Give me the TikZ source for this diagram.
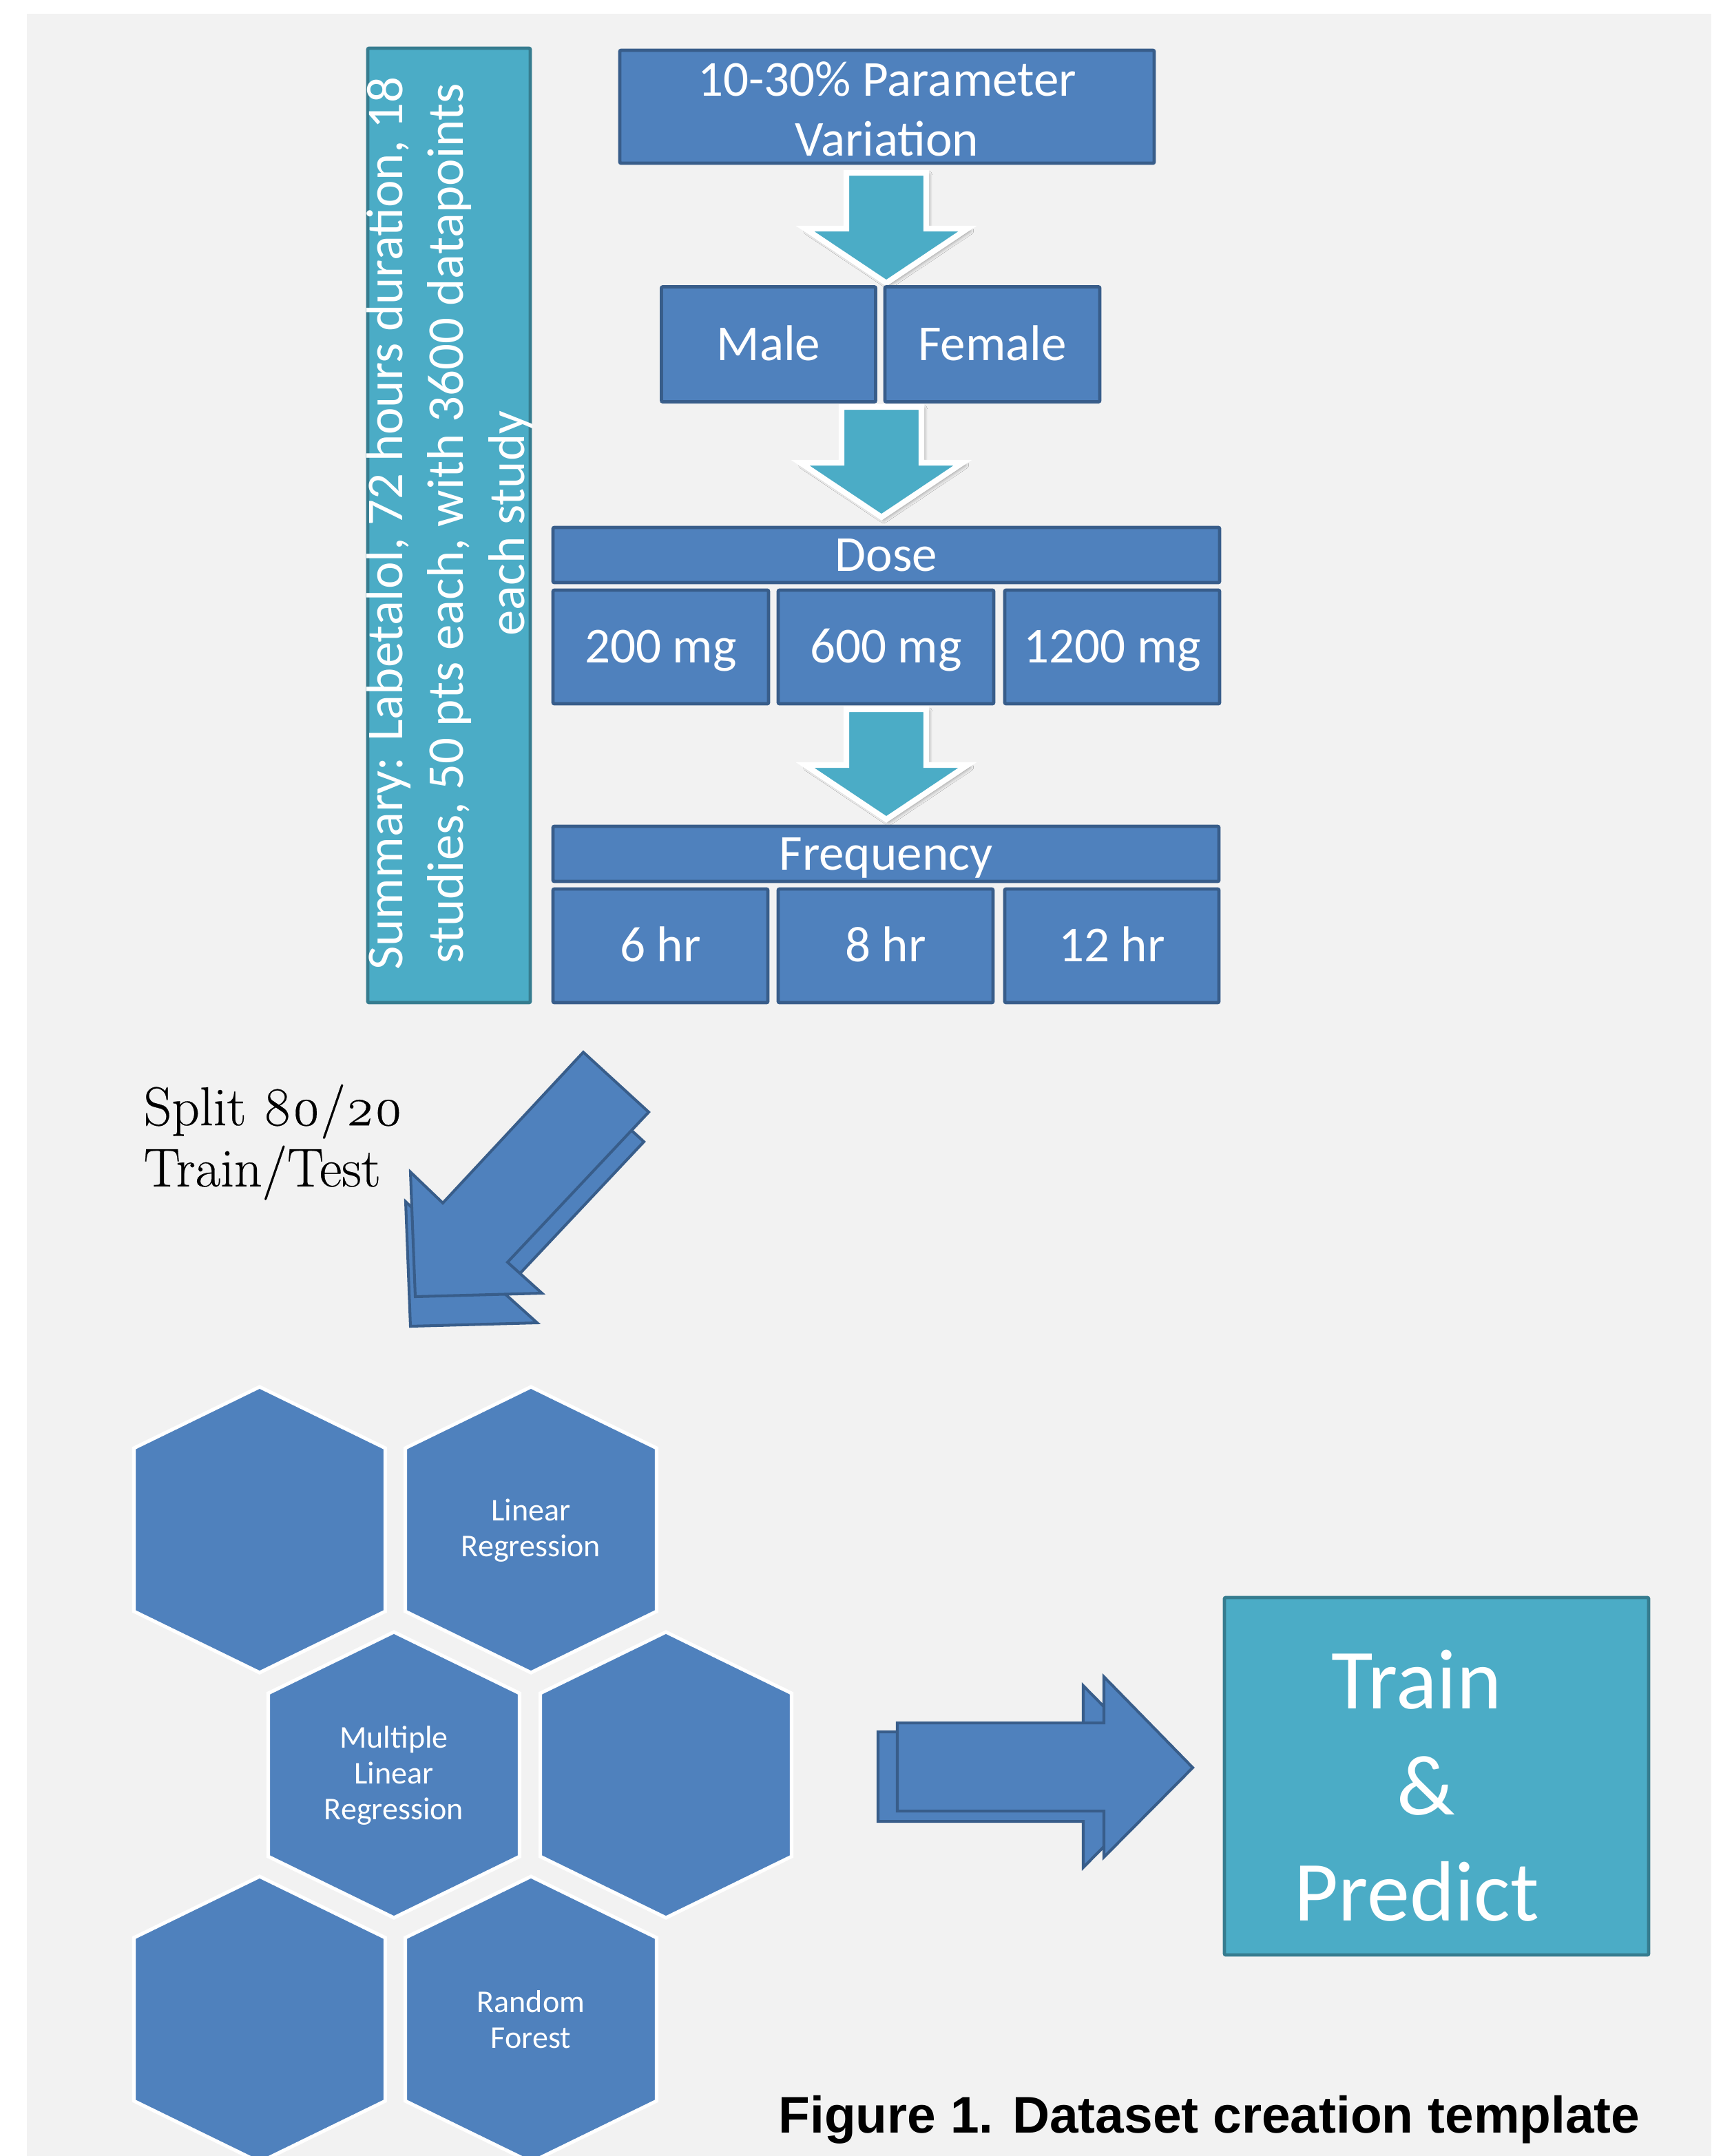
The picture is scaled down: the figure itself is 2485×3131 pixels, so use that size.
\documentclass[tikz,border=0pt]{standalone}
\usepackage{fontspec}
\setmainfont{Carlito}
\newfontfamily\capfont{Liberation Sans}
\newfontfamily\splitfont{Latin Modern Roman}[Numbers=OldStyle, FakeBold=0.35]
\usetikzlibrary{shadows.blur}
\definecolor{pagegray}{HTML}{F2F2F2}
\definecolor{boxblue}{HTML}{4F81BD}
\definecolor{boxedge}{HTML}{385D8A}
\definecolor{aqua}{HTML}{4BACC6}
\definecolor{aquaedge}{HTML}{367C8F}

\begin{document}
\begin{tikzpicture}[x=0.1mm,y=-0.1mm,
  box/.style={draw=boxedge, fill=boxblue, line width=1.4pt, rounded corners=0.6pt,
    text=white, inner sep=0pt, font=\fontsize{20.8pt}{24.8pt}\selectfont,
    text height=13.1pt, text depth=0pt},
  boxml/.style={draw=boxedge, fill=boxblue, line width=1.4pt, rounded corners=0.6pt,
    text=white, inner sep=0pt, align=center, font=\fontsize{20.8pt}{24.8pt}\selectfont},
  aquabox/.style={draw=aquaedge, fill=aqua, line width=1.4pt, rounded corners=0.6pt, inner sep=0pt},
  flowarrow/.style={fill=aqua, draw=white, line width=2.3pt, line join=miter,
    blur shadow={shadow xshift=0.9pt, shadow yshift=-0.9pt, shadow blur radius=1.6pt,
      shadow opacity=45, shadow blur steps=6}},
  bluearrow/.style={fill=boxblue, draw=boxedge, line width=1.15pt, line join=miter},
  hexstyle/.style={fill=boxblue, draw=white, line width=1.45pt, line join=miter},
  hextext/.style={text=white, align=center, inner sep=0pt,
    font=\fontsize{13.1pt}{14.8pt}\selectfont},
  downarrow/.pic={
    \path[flowarrow] (-58,0) -- (58,0) -- (58,81) -- (118,81) -- (0,160)
      -- (-118,81) -- (-58,81) -- cycle;},
  hexa/.pic={
    \path[hexstyle] (0,-207.5) -- (182.5,-118.5) -- (182.5,118.5) -- (0,207.5)
      -- (-182.5,118.5) -- (-182.5,-118.5) -- cycle;}
]
\useasboundingbox (0,0) rectangle (2485,3131);
\clip (0,0) rectangle (2485,3131);
\fill[white] (0,0) rectangle (2485,3131);
\fill[pagegray] (39,20) rectangle (2485,3131);

% summary column
\node[aquabox, minimum width=23.6mm, minimum height=138.6mm] (sumbox) at (652,763) {};
\node[rotate=90, align=center, text=white, inner sep=0pt,
  font=\fontsize{21.3pt}{25.2pt}\selectfont] (sumtext) at (653,760)
  {Summary: Labetalol, 72 hours duration, 18\\studies, 50 pts each, with 3600 datapoints\\each study};

% parameter cascade
\node[boxml, minimum width=77.6mm, minimum height=16.4mm] (var) at (1288,155) {};
\node[align=center, text=white, inner sep=0pt, font=\fontsize{20.8pt}{24.8pt}\selectfont]
  (vartext) at (1288,158) {10-30\% Parameter\\Variation};
\pic at (1287,251) {downarrow};
\node[box, minimum width=31.1mm, minimum height=16.7mm] (male) at (1116,500) {Male};
\node[box, minimum width=31.2mm, minimum height=16.7mm] (female) at (1441,500) {Female};
\pic at (1280,591) {downarrow};
\node[box, minimum width=96.8mm, minimum height=8mm] (dose) at (1287,806) {Dose};
\node[box, minimum width=31.3mm, minimum height=16.5mm] (d200) at (959.5,939.5) {200 mg};
\node[box, minimum width=31.3mm, minimum height=16.5mm] (d600) at (1286.5,939.5) {600 mg};
\node[box, minimum width=31.2mm, minimum height=16.5mm] (d1200) at (1615,939.5) {1200 mg};
\pic at (1287,1030) {downarrow};
\node[box, minimum width=96.7mm, minimum height=8mm] (freq) at (1286.5,1240) {Frequency};
\node[box, minimum width=31.2mm, minimum height=16.5mm] (f6) at (959,1373.5) {6 hr};
\node[box, minimum width=31.2mm, minimum height=16.5mm] (f8) at (1286,1373.5) {8 hr};
\node[box, minimum width=31.1mm, minimum height=16.5mm] (f12) at (1614.5,1373.5) {12 hr};

% split arrow (two stacked copies)
\path[bluearrow] (840,1571) -- (935,1658) -- (730,1876) -- (780,1921) -- (596,1926)
  -- (589,1745) -- (636,1790) -- cycle;
\path[bluearrow] (847,1528) -- (942,1615) -- (737,1833) -- (787,1878) -- (603,1883)
  -- (596,1702) -- (643,1747) -- cycle;
\node[anchor=base west, align=left, inner sep=0pt,
  font=\splitfont\fontsize{22.6pt}{25.3pt}\selectfont] (split) at (208,1723)
  {Split 80/20\\Train/Test};

% model hexagons
\pic at (377,2221.5) {hexa};
\pic at (771,2221.5) {hexa};
\pic at (572,2577.5) {hexa};
\pic at (967,2577.5) {hexa};
\pic at (377,2932.5) {hexa};
\pic at (771,2932.5) {hexa};
\node[hextext] (linreg) at (771,2223) {Linear\\Regression};
\node[hextext] (mlr) at (572,2578) {Multiple\\Linear\\Regression};
\node[hextext] (rf) at (771,2933) {Random\\Forest};

% arrow to the result box (two stacked copies)
\path[bluearrow] (1275,2515) -- (1573,2515) -- (1573,2448) -- (1703,2580) -- (1573,2712)
  -- (1573,2645) -- (1275,2645) -- cycle;
\path[bluearrow] (1303,2502) -- (1603,2502) -- (1603,2435) -- (1732,2567) -- (1603,2697)
  -- (1603,2630) -- (1303,2630) -- cycle;

% result
\node[aquabox, minimum width=61.6mm, minimum height=51.9mm] (result) at (2086,2579.5) {};
\node[align=center, text=white, inner sep=0pt,
  font=\fontsize{35.3pt}{43.8pt}\selectfont] (resulttext) at (2057,2593)
  {Train\\\hspace*{0.23em}\&\\Predict};

% caption
\node[anchor=base, inner sep=0pt, font=\capfont\bfseries\fontsize{21.3pt}{25pt}\selectfont]
  (caption) at (1756,3097) {Figure 1. Dataset creation template};
\end{tikzpicture}
\end{document}
